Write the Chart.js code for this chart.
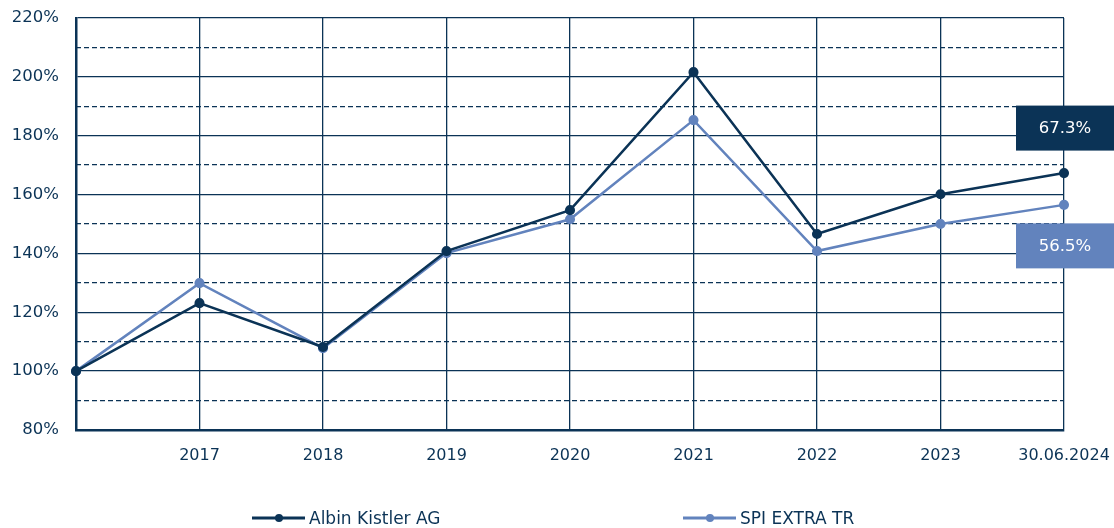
<!DOCTYPE html>
<html>
<head>
<meta charset="utf-8">
<script src="https://cdn.jsdelivr.net/npm/chart.js@4/dist/chart.umd.min.js"></script>
<style>
html,body{margin:0;padding:0;background:#fff;}
#wrap{width:1114px;height:528px;position:relative;}
</style>
</head>
<body>
<div id="wrap"><canvas id="c" width="1114" height="528"></canvas></div>
<script>
const categories = ['', '2017', '2018', '2019', '2020', '2021', '2022', '2023', '30.06.2024'];
const albinKistler = [100, 123.1, 108.2, 140.8, 154.7, 201.6, 146.6, 160.1, 167.3];
const spiExtra = [100, 129.9, 107.8, 140.1, 151.6, 185.3, 140.8, 150.0, 156.5];
const seriesNames = ['Albin Kistler AG', 'SPI EXTRA TR'];
const yMin = 80, yMax = 220;

const DARK = '#0b3356';
const LIGHT = '#6283bd';
const FONT = '"DejaVu Sans", sans-serif';

const overlay = {
  id: 'overlay',
  afterDraw(chart) {
    const ctx = chart.ctx;
    const ca = chart.chartArea;
    const y = chart.scales.y;
    const boxes = [
      {ds: 0, color: DARK, dy: -45},
      {ds: 1, color: LIGHT, dy: 41}
    ];
    ctx.save();
    boxes.forEach(b => {
      const data = chart.data.datasets[b.ds].data;
      const last = data[data.length - 1];
      const py = y.getPixelForValue(last);
      const cy = py + b.dy;
      const x0 = ca.right - 48, w = chart.width - x0, h = 45;
      ctx.fillStyle = b.color;
      ctx.fillRect(x0, cy - h / 2, w, h);
      ctx.fillStyle = '#ffffff';
      ctx.font = '16.5px ' + FONT;
      ctx.textAlign = 'center';
      ctx.textBaseline = 'middle';
      ctx.fillText((last - 100).toFixed(1) + '%', x0 + w / 2, cy + 1);
    });
    const items = [
      {name: seriesNames[0], color: DARK, x: 252},
      {name: seriesNames[1], color: LIGHT, x: 683}
    ];
    const ly = 518;
    items.forEach(it => {
      ctx.strokeStyle = it.color;
      ctx.lineWidth = 3;
      ctx.beginPath();
      ctx.moveTo(it.x, ly);
      ctx.lineTo(it.x + 53, ly);
      ctx.stroke();
      ctx.fillStyle = it.color;
      ctx.beginPath();
      ctx.arc(it.x + 27, ly, 4, 0, Math.PI * 2);
      ctx.fill();
      ctx.fillStyle = DARK;
      ctx.font = '17px ' + FONT;
      ctx.textAlign = 'left';
      ctx.textBaseline = 'middle';
      ctx.fillText(it.name, it.x + 57, ly + 2);
    });
    ctx.restore();
  }
};

function noPad(s) { s.paddingTop = 0; s.paddingBottom = 0; s.paddingLeft = 0; s.paddingRight = 0; }

new Chart(document.getElementById('c'), {
  type: 'line',
  data: {
    labels: categories,
    datasets: [
      {label: seriesNames[0], data: albinKistler, borderColor: DARK, backgroundColor: DARK,
       borderWidth: 2.5, pointRadius: 3.8, pointHoverRadius: 3.8, tension: 0, order: 1},
      {label: seriesNames[1], data: spiExtra, borderColor: LIGHT, backgroundColor: LIGHT,
       borderWidth: 2.5, pointRadius: 3.8, pointHoverRadius: 3.8, tension: 0, order: 2}
    ]
  },
  options: {
    responsive: false,
    animation: false,
    layout: {padding: {top: 18, right: 50, left: 0, bottom: 0}},
    plugins: {legend: {display: false}, tooltip: {enabled: false}},
    scales: {
      x: {
        offset: false,
        grid: {color: DARK, lineWidth: 1.3, drawTicks: false},
        border: {color: DARK, width: 2.5},
        ticks: {color: DARK, font: {family: FONT, size: 16}, padding: 16, maxRotation: 0, autoSkip: false},
        afterFit(s) { s.height = 98; noPad(s); }
      },
      y: {
        min: yMin, max: yMax,
        grid: {color: DARK, lineWidth: 1.3, drawTicks: false},
        border: {color: DARK, width: 2.5},
        ticks: {stepSize: 20, color: DARK, font: {family: FONT, size: 16.5}, padding: 17,
                callback: v => v + '%'},
        afterFit(s) { s.width = 76; noPad(s); }
      },
      y2: {
        position: 'left',
        min: yMin, max: yMax,
        display: true,
        grid: {
          drawTicks: false,
          lineWidth: 1.3,
          color: c => (c.tick && c.tick.value % 20 !== 0) ? DARK : 'rgba(0,0,0,0)'
        },
        border: {display: false, dash: [5, 3]},
        ticks: {display: false, stepSize: 10},
        afterFit(s) { s.width = 0; noPad(s); }
      }
    }
  },
  plugins: [overlay]
});
</script>
</body>
</html>
